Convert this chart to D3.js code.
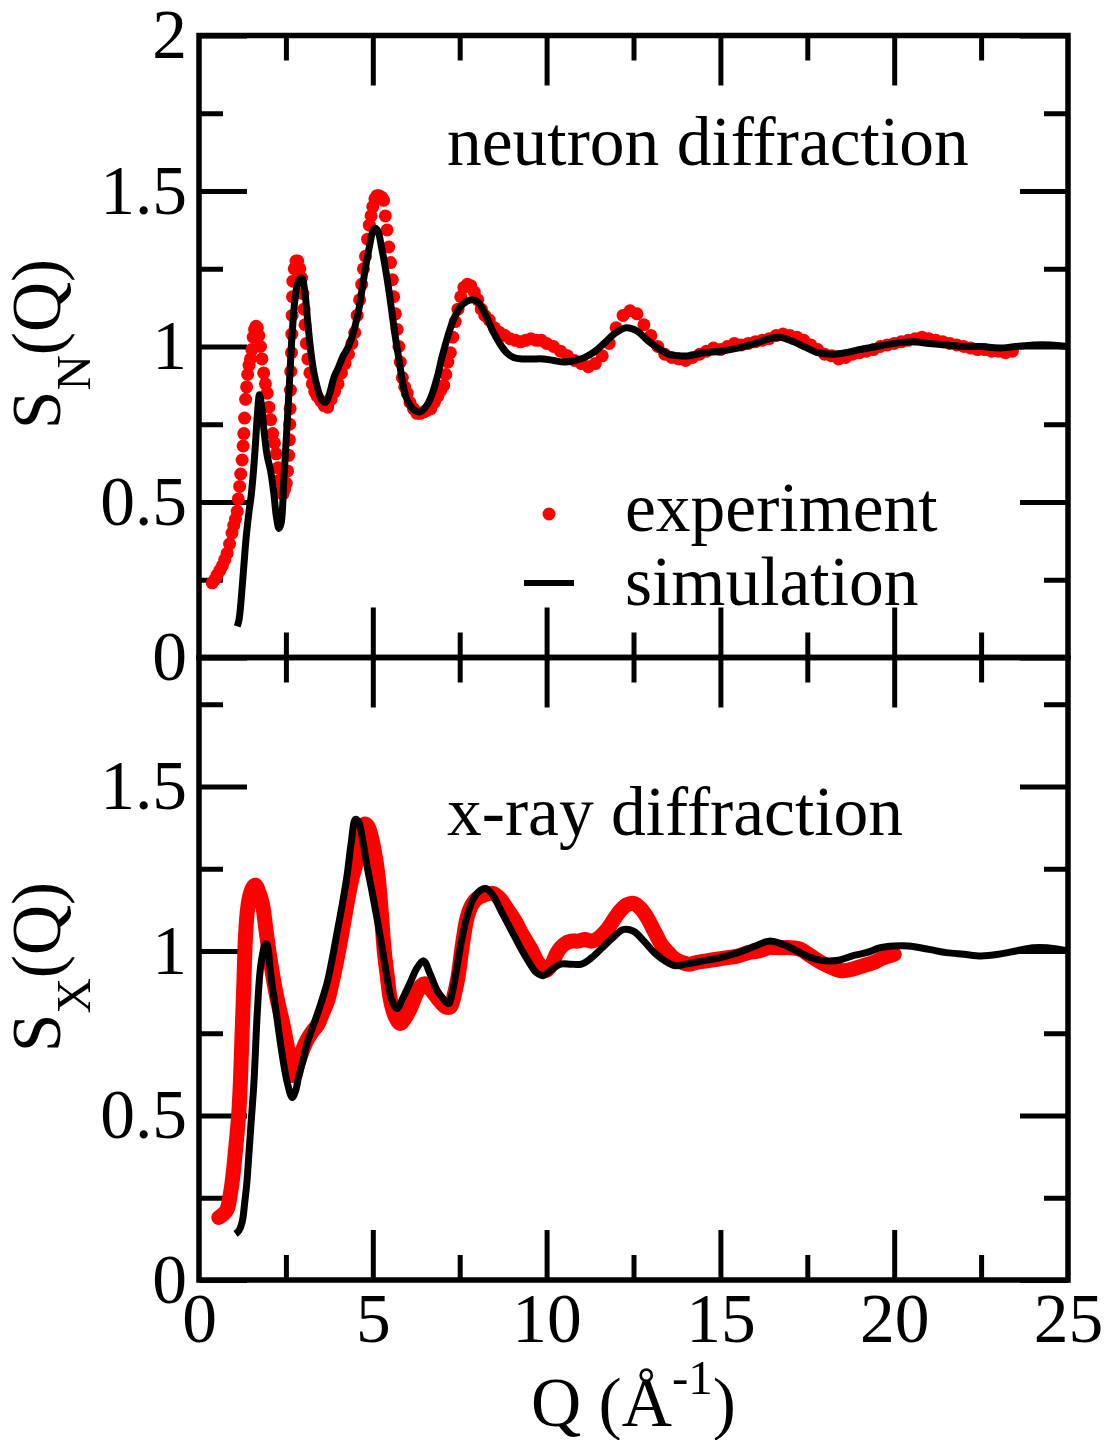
<!DOCTYPE html>
<html>
<head>
<meta charset="utf-8">
<script src="https://cdn.jsdelivr.net/npm/d3@7"></script>
<style>
  body { margin: 0; background: #fff; }
  text { font-family: "Liberation Serif", "Times New Roman", serif; }
</style>
</head>
<body>
<svg id="chart" width="1107" height="1440"></svg>
<script>
// tick values
const qMajor = [0, 5, 10, 15, 20, 25];
const qMinor = [2.5, 7.5, 12.5, 17.5, 22.5];
const topMajor = [0, 0.5, 1, 1.5, 2];
const bottomMajor = [0, 0.5, 1, 1.5];
const sMinor = [0.25, 0.75, 1.25, 1.75];

// neutron diffraction, experiment  [Q, S]
const neutronExp = [
  [0.38,0.24],[0.45,0.25],[0.52,0.265],[0.60,0.28],[0.67,0.295],[0.74,0.315],[0.81,0.335],
  [0.88,0.365],[0.95,0.40],[1.00,0.425],[1.05,0.445],[1.10,0.47],[1.13,0.51],[1.17,0.55],
  [1.20,0.59],[1.24,0.635],[1.27,0.68],[1.29,0.72],[1.31,0.77],[1.34,0.83],[1.37,0.87],
  [1.40,0.91],[1.44,0.94],[1.48,0.96],[1.52,0.99],[1.56,1.03],[1.60,1.055],[1.64,1.065],
  [1.68,1.06],[1.72,1.035],[1.77,1.00],[1.81,0.96],[1.86,0.915],[1.91,0.88],[1.96,0.85],
  [2.01,0.805],[2.06,0.765],[2.12,0.72],[2.17,0.69],[2.22,0.655],[2.27,0.61],[2.31,0.57],
  [2.36,0.535],[2.41,0.525],[2.46,0.54],[2.51,0.56],[2.55,0.60],[2.58,0.65],[2.60,0.70],
  [2.61,0.75],[2.62,0.80],[2.63,0.86],[2.64,0.92],[2.66,0.98],[2.67,1.04],[2.68,1.10],
  [2.69,1.16],[2.70,1.21],[2.74,1.25],[2.79,1.275],[2.84,1.275],[2.90,1.25],[2.95,1.22],
  [2.99,1.17],[3.02,1.12],[3.05,1.07],[3.09,1.01],[3.13,0.96],[3.19,0.915],[3.26,0.88],
  [3.33,0.855],[3.40,0.84],[3.50,0.825],[3.60,0.81],[3.70,0.805],[3.80,0.83],[3.90,0.855],
  [4.00,0.88],[4.10,0.915],[4.20,0.945],[4.30,0.975],[4.40,1.01],[4.48,1.045],[4.55,1.10],
  [4.62,1.15],[4.68,1.20],[4.73,1.25],[4.79,1.29],[4.85,1.345],[4.90,1.39],[4.95,1.42],
  [5.00,1.45],[5.06,1.475],[5.12,1.485],[5.18,1.485],[5.25,1.48],[5.31,1.47],[5.36,1.42],
  [5.41,1.375],[5.46,1.32],[5.51,1.27],[5.56,1.215],[5.60,1.16],[5.65,1.105],[5.70,1.055],
  [5.75,1.00],[5.79,0.95],[5.85,0.90],[5.92,0.87],[5.99,0.85],[6.07,0.82],[6.17,0.80],
  [6.27,0.785],[6.37,0.785],[6.47,0.79],[6.57,0.795],[6.67,0.80],[6.77,0.82],[6.87,0.84],
  [6.96,0.86],[7.04,0.875],[7.10,0.91],[7.16,0.95],[7.23,0.98],[7.30,1.03],[7.37,1.08],
  [7.45,1.12],[7.53,1.16],[7.62,1.19],[7.72,1.20],[7.82,1.195],[7.92,1.175],[8.02,1.15],
  [8.12,1.12],[8.22,1.10],[8.35,1.085],[8.50,1.06],[8.65,1.045],[8.80,1.035],[8.95,1.025],
  [9.10,1.02],[9.25,1.015],[9.40,1.02],[9.55,1.025],[9.70,1.02],[9.85,1.02],[10.0,1.01],
  [10.2,1.0],[10.4,0.985],[10.6,0.97],[10.8,0.955],[11.0,0.945],[11.2,0.935],[11.4,0.945],
  [11.6,0.97],[11.8,1.01],[12.0,1.06],[12.2,1.10],[12.4,1.115],[12.6,1.105],[12.8,1.07],
  [13.0,1.035],[13.2,1.0],[13.4,0.975],[13.6,0.965],[13.8,0.96],[14.0,0.955],[14.2,0.965],
  [14.4,0.975],[14.6,0.985],[14.8,0.995],[15.0,0.99],[15.2,1.0],[15.4,1.01],[15.6,1.005],
  [15.8,1.01],[16.0,1.015],[16.2,1.02],[16.4,1.025],[16.6,1.035],[16.8,1.04],[17.0,1.035],
  [17.2,1.03],[17.4,1.02],[17.6,1.005],[17.8,0.99],[18.0,0.975],[18.2,0.97],[18.4,0.96],
  [18.6,0.965],[18.8,0.975],[19.0,0.98],[19.2,0.985],[19.4,0.99],[19.6,1.0],[19.8,1.005],
  [20.0,1.01],[20.2,1.015],[20.4,1.02],[20.6,1.025],[20.8,1.03],[21.0,1.025],[21.2,1.02],
  [21.4,1.015],[21.6,1.01],[21.8,1.005],[22.0,1.0],[22.2,0.995],[22.4,0.99],[22.6,0.99],
  [22.8,0.985],[23.0,0.985],[23.2,0.98],[23.4,0.985]
];

// neutron diffraction, simulation
const neutronSim = [
  [1.10,0.10],[1.15,0.12],[1.20,0.17],[1.28,0.28],[1.36,0.39],[1.44,0.47],[1.50,0.52],
  [1.56,0.59],[1.62,0.68],[1.68,0.78],[1.74,0.845],[1.80,0.81],[1.88,0.72],[1.96,0.65],
  [2.06,0.60],[2.15,0.53],[2.23,0.45],[2.30,0.415],[2.36,0.43],[2.44,0.57],[2.52,0.72],
  [2.60,0.88],[2.68,1.04],[2.76,1.15],[2.86,1.21],[2.96,1.22],[3.04,1.18],[3.12,1.09],
  [3.20,1.00],[3.30,0.92],[3.40,0.87],[3.52,0.83],[3.64,0.82],[3.76,0.85],[3.88,0.90],
  [4.00,0.93],[4.15,0.97],[4.30,1.00],[4.40,1.03],[4.50,1.07],[4.60,1.12],[4.70,1.19],
  [4.80,1.26],[4.90,1.32],[5.00,1.37],[5.07,1.38],[5.15,1.37],[5.25,1.32],[5.35,1.26],
  [5.45,1.19],[5.55,1.11],[5.65,1.03],[5.75,0.96],[5.85,0.89],[5.95,0.84],[6.05,0.815],
  [6.20,0.795],[6.37,0.79],[6.55,0.81],[6.70,0.845],[6.85,0.90],[7.00,0.97],[7.15,1.03],
  [7.30,1.08],[7.50,1.125],[7.70,1.145],[7.90,1.15],[8.05,1.14],[8.25,1.10],[8.45,1.05],
  [8.65,1.01],[8.85,0.98],[9.05,0.965],[9.30,0.96],[9.60,0.96],[9.90,0.96],[10.2,0.955],
  [10.5,0.95],[10.8,0.955],[11.1,0.965],[11.4,0.985],[11.7,1.015],[12.0,1.045],[12.3,1.06],
  [12.6,1.05],[12.9,1.02],[13.2,0.995],[13.5,0.975],[13.8,0.97],[14.1,0.97],[14.5,0.98],
  [15.0,0.985],[15.5,0.995],[16.0,1.01],[16.4,1.025],[16.7,1.03],[17.0,1.02],[17.4,1.0],
  [17.8,0.98],[18.2,0.975],[18.6,0.98],[19.0,0.99],[19.5,1.0],[20.0,1.01],[20.5,1.015],
  [21.0,1.01],[21.5,1.005],[22.0,1.0],[22.5,1.0],[23.0,0.995],[23.5,1.0],[24.0,1.005],
  [24.5,1.005],[25.0,1.0]
];

// x-ray diffraction, experiment
const xrayExp = [
  [0.57,0.19],[0.70,0.20],[0.81,0.215],[0.90,0.26],[0.95,0.295],[1.00,0.34],[1.05,0.395],
  [1.10,0.45],[1.14,0.50],[1.19,0.60],[1.24,0.75],[1.29,0.90],[1.34,1.05],[1.40,1.13],
  [1.48,1.175],[1.56,1.195],[1.62,1.20],[1.70,1.185],[1.82,1.145],[1.92,1.07],[2.01,1.00],
  [2.10,0.94],[2.20,0.88],[2.30,0.83],[2.41,0.78],[2.52,0.72],[2.63,0.66],[2.74,0.62],
  [2.84,0.655],[2.95,0.69],[3.11,0.73],[3.26,0.755],[3.41,0.775],[3.55,0.81],[3.69,0.845],
  [3.83,0.905],[3.97,0.975],[4.12,1.06],[4.26,1.145],[4.40,1.22],[4.55,1.28],[4.65,1.35],
  [4.75,1.385],[4.85,1.38],[4.95,1.35],[5.05,1.30],[5.15,1.23],[5.25,1.11],[5.33,1.00],
  [5.42,0.92],[5.51,0.85],[5.65,0.80],[5.79,0.78],[5.95,0.80],[6.10,0.83],[6.25,0.87],
  [6.40,0.895],[6.51,0.90],[6.65,0.885],[6.80,0.865],[6.95,0.845],[7.10,0.83],[7.23,0.83],
  [7.35,0.87],[7.45,0.92],[7.58,1.02],[7.71,1.10],[7.85,1.14],[8.00,1.16],[8.20,1.17],
  [8.44,1.175],[8.65,1.16],[8.85,1.13],[9.10,1.09],[9.30,1.05],[9.53,1.01],[9.75,0.965],
  [9.96,0.94],[10.15,0.96],[10.3,0.995],[10.5,1.02],[10.7,1.03],[10.9,1.03],[11.1,1.035],
  [11.3,1.03],[11.5,1.04],[11.7,1.06],[11.9,1.09],[12.1,1.12],[12.3,1.14],[12.5,1.145],
  [12.7,1.13],[12.9,1.10],[13.1,1.06],[13.3,1.02],[13.5,0.995],[13.7,0.975],[13.9,0.965],
  [14.1,0.96],[14.3,0.965],[14.6,0.97],[14.9,0.975],[15.2,0.98],[15.5,0.985],[15.8,0.995],
  [16.1,1.0],[16.4,1.01],[16.7,1.01],[17.0,1.01],[17.3,1.005],[17.6,0.985],[17.9,0.965],
  [18.2,0.95],[18.5,0.94],[18.8,0.945],[19.1,0.955],[19.4,0.965],[19.7,0.98],[20.0,0.99]
];

// x-ray diffraction, simulation
const xraySim = [
  [1.05,0.14],[1.15,0.15],[1.24,0.175],[1.32,0.24],[1.38,0.30],[1.44,0.39],[1.50,0.48],
  [1.58,0.60],[1.67,0.80],[1.75,0.93],[1.82,0.985],[1.90,1.02],[1.96,1.02],[2.03,0.96],
  [2.10,0.90],[2.20,0.83],[2.29,0.76],[2.40,0.68],[2.54,0.60],[2.68,0.555],[2.78,0.575],
  [2.87,0.62],[3.00,0.67],[3.11,0.72],[3.26,0.765],[3.41,0.81],[3.55,0.855],[3.69,0.905],
  [3.83,0.975],[3.97,1.055],[4.12,1.14],[4.26,1.23],[4.38,1.33],[4.50,1.40],[4.60,1.39],
  [4.72,1.33],[4.84,1.255],[4.98,1.18],[5.12,1.10],[5.27,1.01],[5.41,0.92],[5.55,0.85],
  [5.70,0.825],[5.88,0.86],[6.08,0.905],[6.28,0.95],[6.46,0.97],[6.65,0.93],[6.85,0.88],
  [7.02,0.855],[7.18,0.84],[7.30,0.88],[7.42,0.95],[7.55,1.03],[7.71,1.105],[7.90,1.16],
  [8.10,1.185],[8.25,1.19],[8.45,1.17],[8.70,1.12],[9.00,1.06],[9.25,1.01],[9.50,0.965],
  [9.70,0.935],[9.90,0.925],[10.1,0.94],[10.4,0.96],[10.7,0.96],[11.0,0.96],[11.3,0.98],
  [11.6,1.01],[11.9,1.04],[12.2,1.065],[12.5,1.06],[12.8,1.03],[13.1,0.995],[13.4,0.97],
  [13.7,0.955],[14.0,0.96],[14.5,0.97],[15.0,0.98],[15.5,0.995],[16.0,1.015],[16.4,1.03],
  [16.8,1.02],[17.2,1.0],[17.6,0.98],[18.0,0.97],[18.4,0.972],[18.8,0.985],[19.2,0.995],
  [19.6,1.01],[20.0,1.015],[20.4,1.015],[21.0,1.005],[21.5,0.995],[22.0,0.99],[22.5,0.985],
  [23.0,0.99],[23.5,1.0],[24.0,1.01],[24.4,1.01],[25.0,1.0]
];

const svg = d3.select("#chart");
const left = 199, right = 1068;
const top1 = 35.5, mid = 657.5, bottom2 = 1280;
const fontSize = 69.5;

const x = d3.scaleLinear().domain([0, 25]).range([left, right]);
const yTop = d3.scaleLinear().domain([0, 2]).range([mid, top1]);
// bottom panel: 329 px per unit, so its top edge falls at ~1.89
const yBot = d3.scaleLinear().domain([0, 1]).range([bottom2, bottom2 - 329]);

function styleAxis(g) {
  g.select(".domain").remove();
  g.selectAll(".tick line").attr("stroke", "#000").attr("stroke-width", 5);
  g.selectAll(".tick text")
    .attr("font-family", "'Liberation Serif', 'Times New Roman', serif")
    .attr("font-size", fontSize)
    .attr("fill", "#000");
}

function drawPanel(y, yMajor, yMax, showQLabels) {
  const yMinorVals = sMinor.filter(v => v < yMax);
  const yTopPx = y(yMax);
  const yBotPx = y(0);

  // y ticks, left with labels
  svg.append("g").attr("transform", "translate(" + left + ",0)")
    .call(d3.axisLeft(y).tickValues(yMajor).tickSizeInner(-48).tickSizeOuter(0)
      .tickPadding(12).tickFormat(d3.format("")))
    .call(styleAxis);
  svg.append("g").attr("transform", "translate(" + left + ",0)")
    .call(d3.axisLeft(y).tickValues(yMinorVals).tickSizeInner(-24).tickSizeOuter(0).tickFormat(""))
    .call(styleAxis);
  // y ticks, right
  svg.append("g").attr("transform", "translate(" + right + ",0)")
    .call(d3.axisRight(y).tickValues(yMajor).tickSizeInner(-48).tickSizeOuter(0).tickFormat(""))
    .call(styleAxis);
  svg.append("g").attr("transform", "translate(" + right + ",0)")
    .call(d3.axisRight(y).tickValues(yMinorVals).tickSizeInner(-24).tickSizeOuter(0).tickFormat(""))
    .call(styleAxis);
  // x ticks, top of panel
  svg.append("g").attr("transform", "translate(0," + yTopPx + ")")
    .call(d3.axisTop(x).tickValues(qMajor.slice(1, -1)).tickSizeInner(-50).tickSizeOuter(0).tickFormat(""))
    .call(styleAxis);
  svg.append("g").attr("transform", "translate(0," + yTopPx + ")")
    .call(d3.axisTop(x).tickValues(qMinor).tickSizeInner(-25).tickSizeOuter(0).tickFormat(""))
    .call(styleAxis);
  // x ticks, bottom of panel
  svg.append("g").attr("transform", "translate(0," + yBotPx + ")")
    .call(d3.axisBottom(x).tickValues(showQLabels ? qMajor : qMajor.slice(1, -1))
      .tickSizeInner(-50).tickSizeOuter(0).tickPadding(13)
      .tickFormat(d => showQLabels ? String(d) : ""))
    .call(styleAxis)
    .call(g => g.selectAll(".tick line").filter(d => d === 0 || d === 25).remove());
  svg.append("g").attr("transform", "translate(0," + yBotPx + ")")
    .call(d3.axisBottom(x).tickValues(qMinor).tickSizeInner(-25).tickSizeOuter(0).tickFormat(""))
    .call(styleAxis);

  // frame
  svg.append("rect")
    .attr("x", left).attr("y", yTopPx)
    .attr("width", right - left).attr("height", yBotPx - yTopPx)
    .attr("fill", "none").attr("stroke", "#000").attr("stroke-width", 5.5);
}

drawPanel(yTop, topMajor, 2, false);
drawPanel(yBot, bottomMajor, (bottom2 - mid) / 329, true);

const lineTop = d3.line().x(d => x(d[0])).y(d => yTop(d[1])).curve(d3.curveCatmullRom);
const lineBot = d3.line().x(d => x(d[0])).y(d => yBot(d[1])).curve(d3.curveCatmullRom);

// neutron: experiment dots, simulation line
svg.append("g").selectAll("circle")
  .data(neutronExp)
  .join("circle")
  .attr("cx", d => x(d[0]))
  .attr("cy", d => yTop(d[1]))
  .attr("r", 6.5)
  .attr("fill", "#ff0000");

svg.append("path")
  .datum(neutronSim)
  .attr("fill", "none")
  .attr("stroke", "#000")
  .attr("stroke-width", 7)
  .attr("stroke-linejoin", "round")
  .attr("d", lineTop);

// x-ray: experiment is so dense it reads as a thick band
svg.append("path")
  .datum(xrayExp)
  .attr("fill", "none")
  .attr("stroke", "#ff0000")
  .attr("stroke-width", 15)
  .attr("stroke-linejoin", "round")
  .attr("stroke-linecap", "round")
  .attr("d", lineBot);

svg.append("path")
  .datum(xraySim)
  .attr("fill", "none")
  .attr("stroke", "#000")
  .attr("stroke-width", 7)
  .attr("stroke-linejoin", "round")
  .attr("d", lineBot);

// panel captions
svg.append("text").attr("x", 447).attr("y", 165).attr("font-size", fontSize).text("neutron diffraction");
svg.append("text").attr("x", 447).attr("y", 835).attr("font-size", fontSize).text("x-ray diffraction");

// legend
svg.append("circle").attr("cx", 549).attr("cy", 514).attr("r", 6.5).attr("fill", "#ff0000");
svg.append("text").attr("x", 625).attr("y", 531).attr("font-size", fontSize).text("experiment");
svg.append("line").attr("x1", 524).attr("x2", 574).attr("y1", 583).attr("y2", 583)
  .attr("stroke", "#000").attr("stroke-width", 6);
svg.append("text").attr("x", 625).attr("y", 605).attr("font-size", fontSize).text("simulation");

// axis titles
function yTitle(cy, sub) {
  const t = svg.append("text")
    .attr("transform", "translate(60," + cy + ") rotate(-90)")
    .attr("text-anchor", "middle")
    .attr("font-size", fontSize);
  t.append("tspan").text("S");
  t.append("tspan").attr("font-size", 49).attr("dy", 30).text(sub);
  t.append("tspan").attr("dy", -30).text("(Q)");
}
yTitle(344, "N");
yTitle(967, "X");

const xt = svg.append("text")
  .attr("x", (left + right) / 2).attr("y", 1426)
  .attr("text-anchor", "middle")
  .attr("font-size", fontSize);
xt.append("tspan").text("Q (Å");
xt.append("tspan").attr("font-size", 49).attr("dy", -32).text("-1");
xt.append("tspan").attr("dy", 32).text(")");
</script>
</body>
</html>
